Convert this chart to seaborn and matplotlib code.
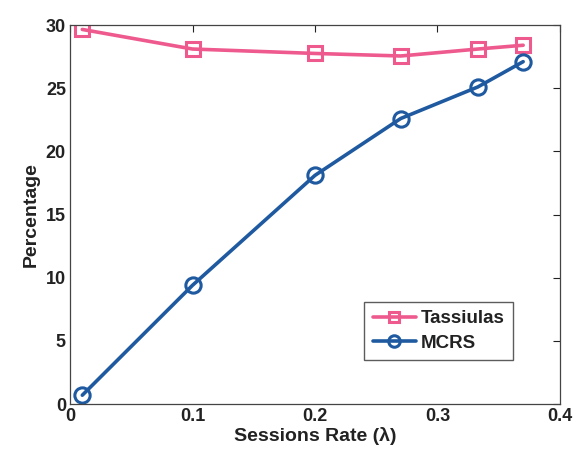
import matplotlib
matplotlib.use("Agg")
import matplotlib.pyplot as plt
import seaborn as sns
import pandas as pd

x_tass = [0.01, 0.1, 0.2, 0.27, 0.333, 0.37]
y_tass = [29.65, 28.1, 27.75, 27.55, 28.1, 28.4]
x_mcrs = [0.01, 0.1, 0.2, 0.27, 0.333, 0.37]
y_mcrs = [0.7, 9.4, 18.1, 22.6, 25.1, 27.1]
series_names = ["Tassiulas", "MCRS"]
x_ticks = [0, 0.1, 0.2, 0.3, 0.4]
x_tick_labels = ["0", "0.1", "0.2", "0.3", "0.4"]
y_ticks = [0, 5, 10, 15, 20, 25, 30]

sns.set_theme(style="white")
plt.rcParams["font.family"] = ["Liberation Sans", "DejaVu Sans"]

fig = plt.figure(figsize=(5.79, 4.55), dpi=100)
ax = fig.add_axes([0.121, 0.112, 0.846, 0.833])

pink = "#EE5A8E"
blue = "#1F5AA0"

df_t = pd.DataFrame({"x": x_tass, "y": y_tass})
df_m = pd.DataFrame({"x": x_mcrs, "y": y_mcrs})
sns.lineplot(data=df_t, x="x", y="y", ax=ax, color=pink, lw=2.6, marker="s",
             markersize=10, markerfacecolor="none", markeredgecolor=pink,
             markeredgewidth=2.2, label=series_names[0])
sns.lineplot(data=df_m, x="x", y="y", ax=ax, color=blue, lw=2.6, marker="o",
             markersize=11, markerfacecolor="none", markeredgecolor=blue,
             markeredgewidth=2.2, label=series_names[1])

ax.set_xlim(0, 0.4)
ax.set_ylim(0, 30)
ax.set_xticks(x_ticks)
ax.set_xticklabels(x_tick_labels)
ax.set_yticks(y_ticks)
ax.tick_params(direction="in", top=True, right=True, length=5, width=0.8,
               labelsize=13, colors="#222222", pad=3)
for lab in ax.get_xticklabels() + ax.get_yticklabels():
    lab.set_fontweight("bold")
for s in ax.spines.values():
    s.set_color("#444444")
    s.set_linewidth(0.9)

ax.set_xlabel("Sessions Rate (λ)", fontsize=14, fontweight="bold",
              color="#222222", labelpad=1)
ax.set_ylabel("Percentage", fontsize=14, fontweight="bold",
              color="#222222", labelpad=4)

leg = ax.legend(loc="lower right", bbox_to_anchor=(0.904, 0.115),
                borderaxespad=0.0,
                prop={"size": 13.5, "weight": "bold"},
                frameon=True, fancybox=False, edgecolor="#333333",
                handlelength=2.3, handletextpad=0.25, borderpad=0.45,
                labelspacing=0.4, markerscale=0.75)
leg.get_frame().set_linewidth(1.0)
for t in leg.get_texts():
    t.set_color("#222222")

fig.savefig("out.png", dpi=100)
